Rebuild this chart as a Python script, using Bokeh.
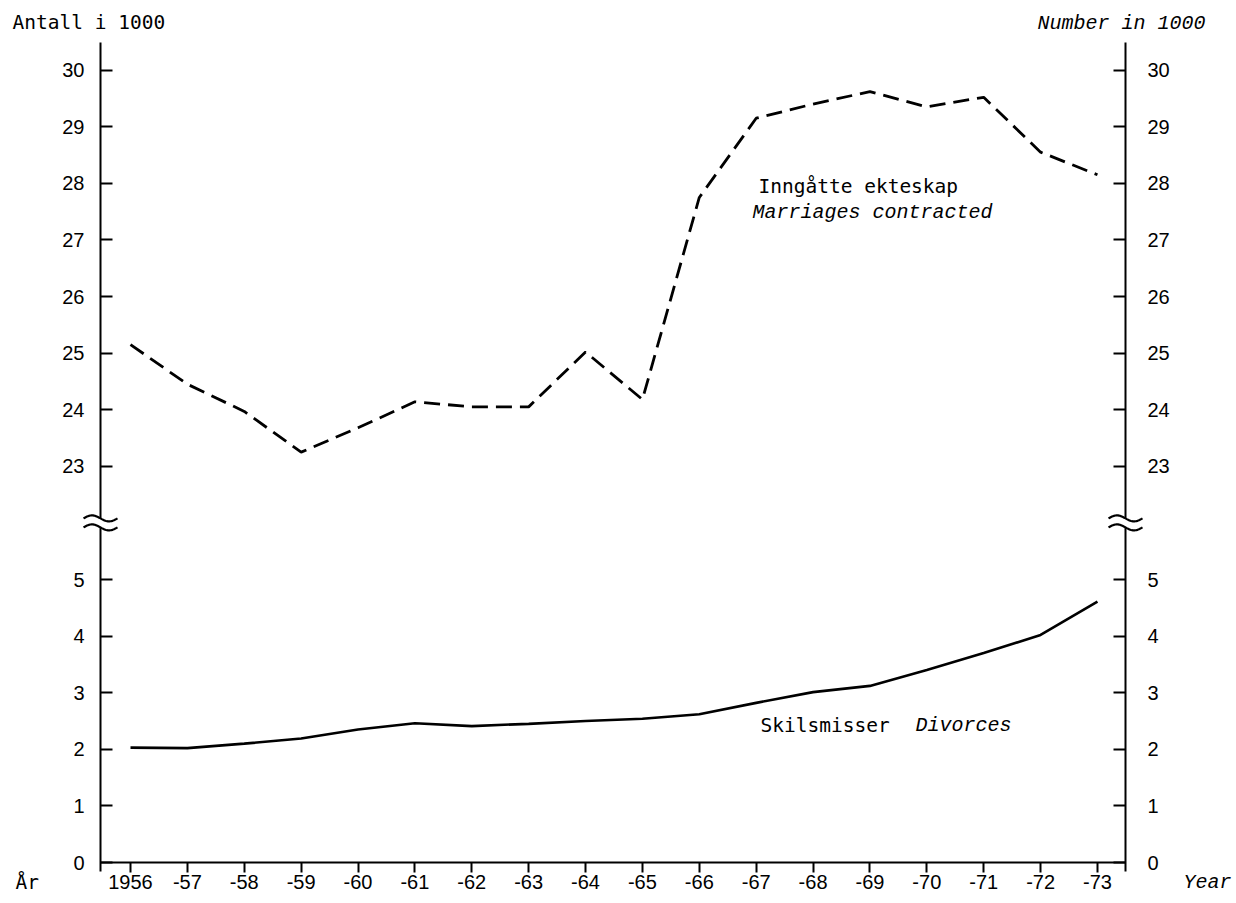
import numpy as np
from bokeh.plotting import figure
from bokeh.models import LinearAxis, FixedTicker, Range1d, Label
from bokeh.embed import file_html
from bokeh.resources import INLINE

# ---------------- data ----------------
years = list(range(1956, 1974))
marriages = [25.15, 24.45, 23.97, 23.25, 23.68, 24.14, 24.05, 24.05, 25.02, 24.18,
             27.75, 29.15, 29.40, 29.62, 29.35, 29.52, 28.55, 28.15]
divorces = [2.03, 2.02, 2.10, 2.19, 2.35, 2.46, 2.41, 2.45, 2.50, 2.54,
            2.62, 2.82, 3.01, 3.12, 3.40, 3.70, 4.02, 4.61]
x_tick_labels = ["1956", "-57", "-58", "-59", "-60", "-61", "-62", "-63", "-64",
                 "-65", "-66", "-67", "-68", "-69", "-70", "-71", "-72", "-73"]
lower_ticks = [0, 1, 2, 3, 4, 5]
upper_ticks = [23, 24, 25, 26, 27, 28, 29, 30]
BREAK_OFFSET = 16      # upper section is drawn shifted down by this many units
BREAK_AT = 6.0         # position of the axis break (in drawn units)

# ---------------- page-pixel helpers (layout only) ----------------
W, H = 1232, 900
PX_YEAR, X0 = 56.88, 130.0   # px per year, page x of 1956
PX_UNIT, Y0 = 56.6, 862.0    # px per unit, page y of 0


def dx(px):
    return 1956 + (px - X0) / PX_YEAR


def dy(py):
    return (Y0 - py) / PX_UNIT


left_axis_x = dx(100)
right_axis_x = dx(1125)
axis_top = dy(42)
axis_bottom = dy(871)

p = figure(width=W, height=H,
           x_range=Range1d(dx(0), dx(W)), y_range=Range1d(dy(H), dy(0)),
           output_backend="svg", toolbar_location=None,
           min_border_left=0, min_border_right=0, min_border_top=0, min_border_bottom=0)
p.outline_line_color = None
p.xgrid.visible = False
p.ygrid.visible = False
p.background_fill_color = "white"
p.border_fill_color = "white"

tick_font = "Liberation Sans"

# x axis
xa = p.xaxis[0]
xa.ticker = FixedTicker(ticks=years)
xa.major_label_overrides = {y: l for y, l in zip(years, x_tick_labels)}
xa.fixed_location = 0
xa.bounds = (left_axis_x, right_axis_x)
xa.major_tick_in = 0
xa.major_tick_out = 10
xa.minor_tick_line_color = None
xa.axis_line_width = 2
xa.major_tick_line_width = 2
xa.major_label_standoff = 2
xa.major_label_text_font = tick_font
xa.major_label_text_font_size = "20px"
xa.major_label_text_color = "black"

# y axes
ytick_pos = lower_ticks + [t - BREAK_OFFSET for t in upper_ticks]
ytick_lab = {float(t): str(t) for t in lower_ticks}
ytick_lab.update({float(t - BREAK_OFFSET): str(t) for t in upper_ticks})

ya = p.yaxis[0]
ra = LinearAxis()
p.add_layout(ra, "right")
for ax, loc, stand in ((ya, left_axis_x, 16), (ra, right_axis_x, 22)):
    ax.ticker = FixedTicker(ticks=ytick_pos)
    ax.major_label_overrides = ytick_lab
    ax.fixed_location = loc
    ax.bounds = (axis_bottom, axis_top)
    ax.major_tick_in = 12
    ax.major_tick_out = 0
    ax.minor_tick_line_color = None
    ax.axis_line_width = 2
    ax.major_tick_line_width = 2
    ax.major_label_standoff = stand
    ax.major_label_text_font = tick_font
    ax.major_label_text_font_size = "20px"
    ax.major_label_text_color = "black"

# ---------------- series ----------------
m_drawn = [v - BREAK_OFFSET for v in marriages]
p.line(years, m_drawn, line_color="black", line_width=2.8, line_dash="16 8")
p.line(years, divorces, line_color="black", line_width=2.6)

# ---------------- axis break marks ----------------
half_w = 17 / PX_YEAR
gap = 4.5 / PX_UNIT
amp = 3.0 / PX_UNIT
t = np.linspace(0, 1, 40)
for ax_x in (left_axis_x, right_axis_x):
    p.quad(left=[ax_x - 4 / PX_YEAR], right=[ax_x + 4 / PX_YEAR],
           bottom=[BREAK_AT - gap + 0.01], top=[BREAK_AT + gap - 0.01],
           fill_color="white", line_color=None, level="overlay")
    xs = ax_x - half_w + 2 * half_w * t
    for off in (gap, -gap):
        ys = BREAK_AT + off + amp * np.sin(2 * np.pi * t)
        p.line(xs, ys, line_color="black", line_width=2.2, level="overlay")

# ---------------- texts ----------------
mono = "DejaVu Sans Mono"
ital = "Liberation Mono"


def lab(txt, px, py, font, size="20px", style="normal"):
    p.add_layout(Label(x=dx(px), y=dy(py), text=txt, text_font=font,
                       text_font_size=size, text_font_style=style,
                       text_align="left", text_baseline="middle", text_color="black"))


lab("Antall i 1000", 12, 22, mono, "19.5px")
lab("Number in 1000", 1037, 23, ital, "20px", "italic")
lab("Inngåtte ekteskap", 758, 186, mono, "19.5px")
lab("Marriages contracted", 752, 212, ital, "20px", "italic")
lab("Skilsmisser", 760, 725, mono, "19.5px")
lab("Divorces", 915, 725, ital, "20px", "italic")
lab("År", 15, 882, mono, "19.5px")
lab("Year", 1183, 882, ital, "20px", "italic")

open("out.html", "w").write(file_html(p, INLINE))
